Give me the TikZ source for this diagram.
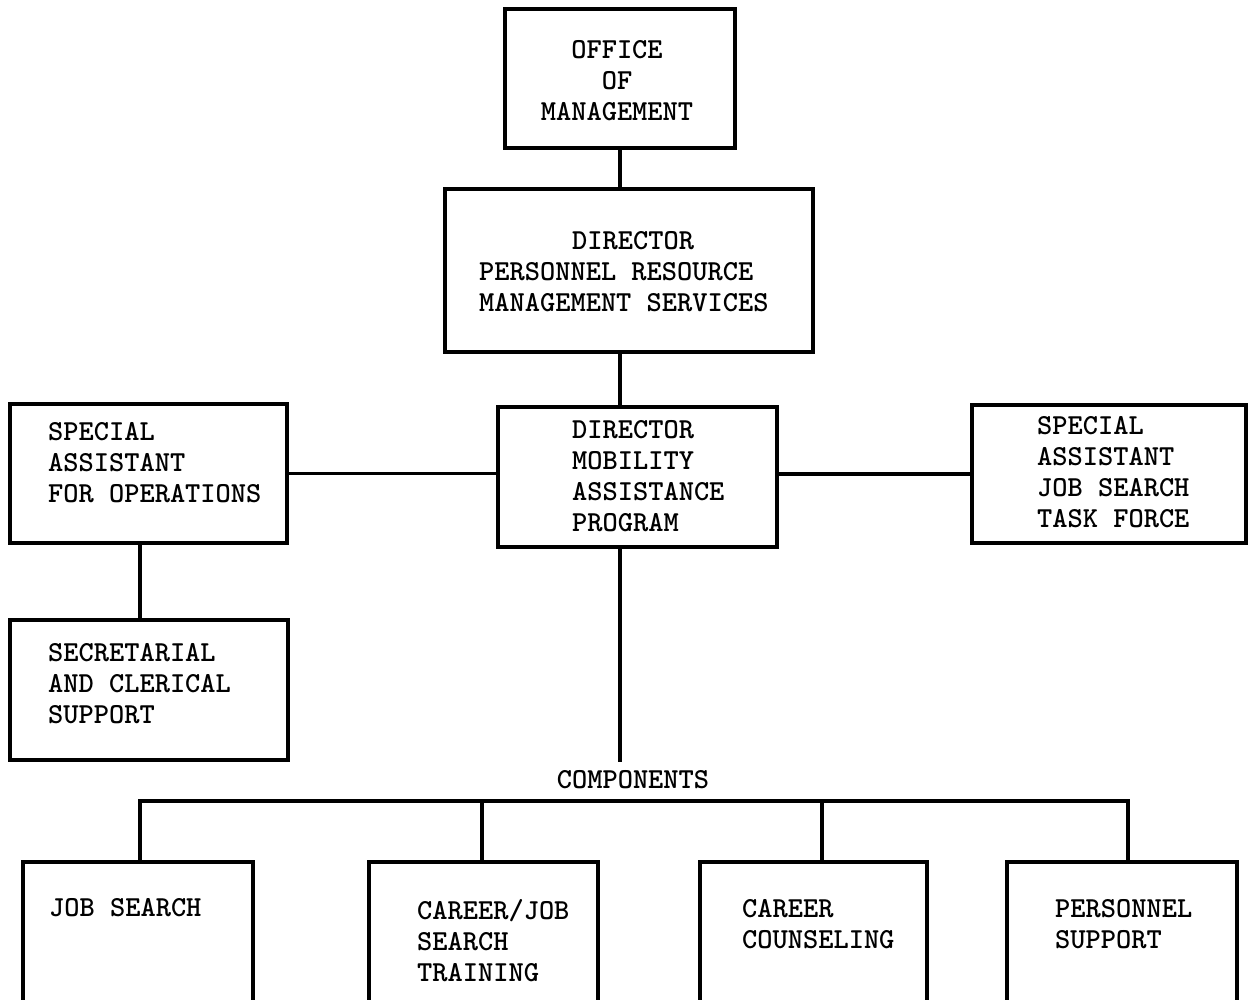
\documentclass[tikz,border=0pt]{standalone}
\begin{document}
\begin{tikzpicture}[x=1pt,y=-1pt,
  box/.style={draw=black, line width=3.4pt, outer sep=0pt, inner sep=0pt, anchor=north west, fill=none},
  lbl/.style={inner sep=0pt, align=left, anchor=west, text=black,
    font={\fontsize{29pt}{31pt}\selectfont\ttfamily\bfseries}},
  conn/.style={draw=black, line width=3.2pt}]
\useasboundingbox (0,0) rectangle (1249,1000);
\clip (0,0) rectangle (1249,1000);
\fill[white] (0,0) rectangle (1249,1000);

% boxes
\node[box, minimum width=230pt, minimum height=139pt] (office) at (505,9) {};
\node[box, minimum width=368pt, minimum height=163pt] (prms) at (445,189) {};
\node[box, minimum width=279pt, minimum height=140pt] (dmap) at (498,407) {};
\node[box, minimum width=277pt, minimum height=139pt] (sao) at (10,404) {};
\node[box, minimum width=274pt, minimum height=138pt] (sjs) at (972,405) {};
\node[box, minimum width=278pt, minimum height=140pt] (sec) at (10,620) {};
\node[box, minimum width=230pt, minimum height=170pt] (js) at (23,862) {};
\node[box, minimum width=229pt, minimum height=170pt] (cjst) at (369,862) {};
\node[box, minimum width=227pt, minimum height=170pt] (cc) at (700,862) {};
\node[box, minimum width=230pt, minimum height=170pt] (ps) at (1007,862) {};

% texts
\node[lbl, align=center, anchor=center] (office-t) at (617,81) {OFFICE\\OF\\MANAGEMENT};
\node[lbl] (prms-t) at (479,271.5) {\hspace*{93pt}DIRECTOR\\PERSONNEL RESOURCE\\MANAGEMENT SERVICES};
\node[lbl] (dmap-t) at (572,476.5) {DIRECTOR\\MOBILITY\\ASSISTANCE\\PROGRAM};
\node[lbl] (sao-t) at (48,462.5) {SPECIAL\\ASSISTANT\\FOR OPERATIONS};
\node[lbl] (sjs-t) at (1037,472) {SPECIAL\\ASSISTANT\\JOB SEARCH\\TASK FORCE};
\node[lbl] (sec-t) at (48,684) {SECRETARIAL\\AND CLERICAL\\SUPPORT};
\node[lbl, anchor=center] (comp) at (633,780) {COMPONENTS};
\node[lbl] (js-t) at (49,908) {JOB SEARCH};
\node[lbl] (cjst-t) at (417,941) {CAREER/JOB\\SEARCH\\TRAINING};
\node[lbl] (cc-t) at (742,924) {CAREER\\COUNSELING};
\node[lbl] (ps-t) at (1055,924) {PERSONNEL\\SUPPORT};

% spine coordinates
\coordinate (spine) at (620,0);
\coordinate (compend) at (620,762);
\coordinate (b1) at (140,801);
\coordinate (b2) at (482,801);
\coordinate (b3) at (822,801);
\coordinate (b4) at (1128,801);
\coordinate (s1) at (140,0);

% connectors
\draw[conn] (spine |- office.south) -- (spine |- prms.north);
\draw[conn] (spine |- prms.south) -- (spine |- dmap.north);
\draw[conn] (spine |- dmap.south) -- (compend);
\draw[conn] (sao.east) -- (sao.east -| dmap.west);
\draw[conn] (sjs.west -| dmap.east) -- (sjs.west);
\draw[conn] (s1 |- sao.south) -- (s1 |- sec.north);
\draw[conn, line cap=rect] (b1) -- (b4);
\draw[conn] (b1) -- (b1 |- js.north);
\draw[conn] (b2) -- (b2 |- cjst.north);
\draw[conn] (b3) -- (b3 |- cc.north);
\draw[conn] (b4) -- (b4 |- ps.north);
\end{tikzpicture}
\end{document}
